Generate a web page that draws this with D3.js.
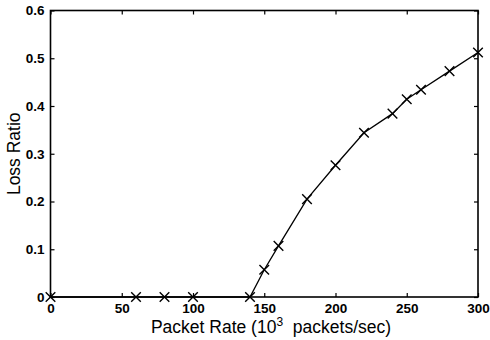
<!DOCTYPE html>
<html><head><meta charset="utf-8">
<script src="https://cdn.jsdelivr.net/npm/d3@7"></script>
<style>body{margin:0;background:#fff}svg{display:block}</style>
</head><body>
<script>
const rates = [0, 60, 80, 100, 140, 150, 160, 180, 200, 220, 240, 250, 260, 280, 300];
const loss  = [0, 0, 0, 0, 0, 0.057, 0.107, 0.205, 0.276, 0.344, 0.384, 0.414, 0.434, 0.473, 0.512];
const xTicks = [0, 50, 100, 150, 200, 250, 300];
const yTicks = [0, 0.1, 0.2, 0.3, 0.4, 0.5, 0.6];

const W = 490, H = 340;
const m = {l: 50.5, r: 12, t: 10.5, b: 43};
const svg = d3.select("body").append("svg").attr("width", W).attr("height", H);
const x = d3.scaleLinear().domain([0, 300]).range([m.l, W - m.r]);
const y = d3.scaleLinear().domain([0, 0.6]).range([H - m.b, m.t]);
const font = "Liberation Sans, Arial, Helvetica, sans-serif";

// frame
svg.append("rect").attr("x", x(0)).attr("y", y(0.6)).attr("width", x(300) - x(0)).attr("height", y(0) - y(0.6))
  .attr("fill", "none").attr("stroke", "#000").attr("stroke-width", 1.6);

const fmtY = d => d === 0 ? "0" : d3.format(".1f")(d);
// axes with inward ticks
const gB = svg.append("g").attr("transform", `translate(0,${y(0)})`)
  .call(d3.axisBottom(x).tickValues(xTicks).tickSizeInner(-4).tickSizeOuter(0).tickPadding(6));
const gT = svg.append("g").attr("transform", `translate(0,${y(0.6)})`)
  .call(d3.axisTop(x).tickValues(xTicks).tickSizeInner(-4).tickSizeOuter(0).tickFormat(""));
const gL = svg.append("g").attr("transform", `translate(${x(0)},0)`)
  .call(d3.axisLeft(y).tickValues(yTicks).tickSizeInner(-4).tickSizeOuter(0).tickPadding(6).tickFormat(fmtY));
const gR = svg.append("g").attr("transform", `translate(${x(300)},0)`)
  .call(d3.axisRight(y).tickValues(yTicks).tickSizeInner(-4).tickSizeOuter(0).tickFormat(""));
[gB, gT, gL, gR].forEach(g => {
  g.select(".domain").remove();
  g.selectAll(".tick line").attr("stroke", "#000").attr("stroke-width", 1.2);
  g.selectAll("text").attr("fill", "#000").style("font-family", font).style("font-size", "13.5px").style("font-weight", "bold");
});

// line
svg.append("path").datum(rates.map((r, i) => [r, loss[i]]))
  .attr("fill", "none").attr("stroke", "#000").attr("stroke-width", 1.3)
  .attr("d", d3.line().x(d => x(d[0])).y(d => y(d[1])));

// x markers
const s = 4.8;
svg.append("g").selectAll("path").data(rates.map((r, i) => [r, loss[i]])).join("path")
  .attr("d", d => { const cx = x(d[0]), cy = y(d[1]);
    return `M${cx - s},${cy - s}L${cx + s},${cy + s}M${cx - s},${cy + s}L${cx + s},${cy - s}`; })
  .attr("stroke", "#000").attr("stroke-width", 1.4).attr("fill", "none");

// titles
const xt = svg.append("text").attr("x", 271).attr("y", 333).attr("text-anchor", "middle")
  .style("font-family", font).style("font-size", "17.5px").attr("fill", "#000").attr("xml:space", "preserve")
  .style("white-space", "pre");
xt.append("tspan").text("Packet Rate (10");
xt.append("tspan").text("3").attr("dy", -7).style("font-size", "12px");
xt.append("tspan").text("  packets/sec)").attr("dy", 7);

svg.append("text").attr("transform", `translate(20,${(y(0) + y(0.6)) / 2}) rotate(-90)`)
  .attr("text-anchor", "middle").style("font-family", font).style("font-size", "17.5px").attr("fill", "#000")
  .text("Loss Ratio");
</script>
</body></html>
